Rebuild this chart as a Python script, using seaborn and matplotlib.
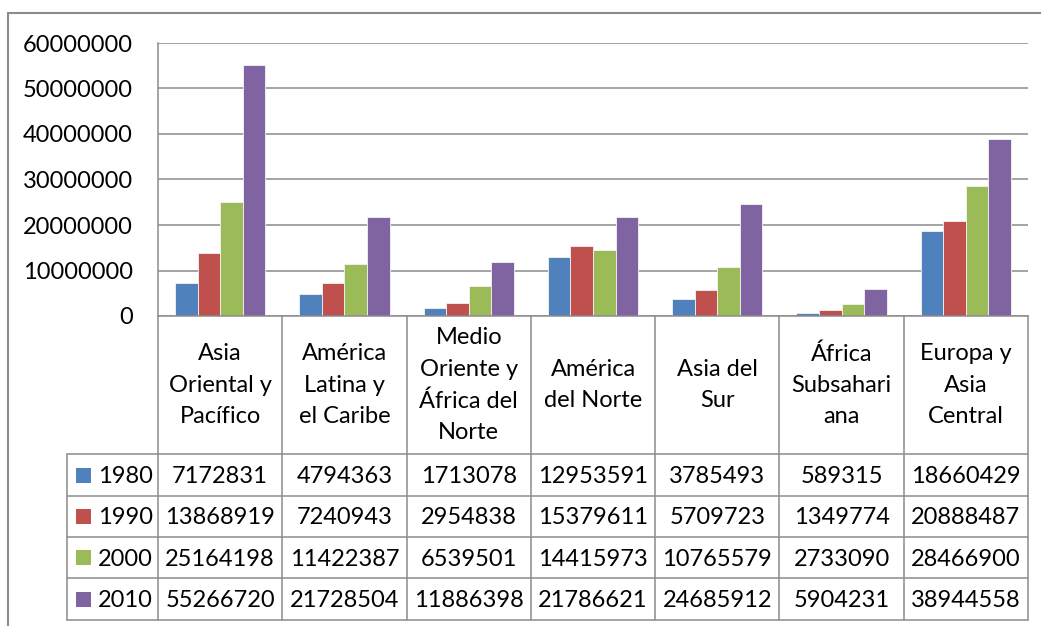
import numpy as np
import pandas as pd
import matplotlib
matplotlib.use("Agg")
import matplotlib.pyplot as plt
import matplotlib.transforms as mtransforms
from matplotlib.lines import Line2D
from matplotlib.patches import Rectangle
import seaborn as sns

# ---- data -------------------------------------------------------------
regions = [
    "Asia\nOriental y\nPacífico",
    "América\nLatina y\nel Caribe",
    "Medio\nOriente y\nÁfrica del\nNorte",
    "América\ndel Norte",
    "Asia del\nSur",
    "África\nSubsahari\nana",
    "Europa y\nAsia\nCentral",
]
years = ["1980", "1990", "2000", "2010"]
v1980 = [7172831, 4794363, 1713078, 12953591, 3785493, 589315, 18660429]
v1990 = [13868919, 7240943, 2954838, 15379611, 5709723, 1349774, 20888487]
v2000 = [25164198, 11422387, 6539501, 14415973, 10765579, 2733090, 28466900]
v2010 = [55266720, 21728504, 11886398, 21786621, 24685912, 5904231, 38944558]
yticks = [0, 10000000, 20000000, 30000000, 40000000, 50000000, 60000000]
colors = ["#4F81BD", "#C0504D", "#9BBB59", "#8064A2"]

series = [v1980, v1990, v2000, v2010]
df = pd.DataFrame({
    "region": [r for _ in years for r in regions],
    "year": [y for y in years for _ in regions],
    "value": [v for s in series for v in s],
})

# ---- figure setup -----------------------------------------------------
sns.set_theme(style="white")
plt.rcParams["font.family"] = ["Lato", "DejaVu Sans"]

W, H = 1041, 626
FS = 17
GREY = "#8c8c8c"
fig = plt.figure(figsize=(W / 100, H / 100), dpi=100)
fig.patch.set_facecolor("white")

# pixel coordinates measured from the top-left corner
T = mtransforms.Affine2D().scale(1, -1).translate(0, H) + mtransforms.IdentityTransform()


def frac(x0, y0, x1, y1):
    return [x0 / W, 1 - y1 / H, (x1 - x0) / W, (y1 - y0) / H]


ax = fig.add_axes(frac(158, 43, 1028, 316))

sns.barplot(
    data=df, x="region", y="value", hue="year",
    order=regions, hue_order=years, palette=colors,
    saturation=1, width=4 / 5.5, gap=0, errorbar=None,
    edgecolor="#f4f4f4", linewidth=0.6, legend=False, ax=ax,
)

ax.set_xlim(-0.5, len(regions) - 0.5)
ax.set_ylim(yticks[0], yticks[-1])
ax.set_yticks(yticks)
ax.set_yticklabels([str(t) for t in yticks])
ax.set_xticks(range(len(regions)))
ax.set_xticklabels([""] * len(regions))
ax.set_xlabel("")
ax.set_ylabel("")
ax.tick_params(axis="y", length=0, pad=18, labelsize=FS, labelcolor="black")
ax.tick_params(axis="x", length=0)
ax.yaxis.grid(True, color=GREY, linewidth=1.1)
ax.set_axisbelow(True)
for side in ("top", "right"):
    ax.spines[side].set_visible(False)
for side in ("left", "bottom"):
    ax.spines[side].set_color(GREY)
    ax.spines[side].set_linewidth(1.1)

# ---- data table under the axis ----------------------------------------
colx = mtransforms.blended_transform_factory(ax.transData, T)
row_edges = [454, 496, 537, 578, 620]
label_mid = (316 + row_edges[0]) / 2

for i, lab in enumerate(regions):
    ax.text(i, label_mid, lab, transform=colx, ha="center", va="center",
            fontsize=FS, linespacing=1.6, color="black", clip_on=False)

for i in range(len(regions) + 1):
    fig.add_artist(Line2D([i - 0.5, i - 0.5], [316, row_edges[-1]],
                          transform=colx, color=GREY, lw=1.1))
for y in row_edges:
    fig.add_artist(Line2D([67, 1028], [y, y], transform=T, color=GREY, lw=1.1))
fig.add_artist(Line2D([67, 67], [row_edges[0], row_edges[-1]], transform=T,
                      color=GREY, lw=1.1))

for r, (yr, vals, c) in enumerate(zip(years, series, colors)):
    yc = (row_edges[r] + row_edges[r + 1]) / 2
    base = yc + 8
    fig.add_artist(Rectangle((76, yc - 7.5), 15, 15, transform=T,
                             facecolor=c, edgecolor="none"))
    fig.text(98, base, yr, transform=T, ha="left", va="baseline",
             fontsize=FS, color="black")
    for i, v in enumerate(vals):
        fig.text(i, base, str(v), transform=colx, ha="center", va="baseline",
                 fontsize=FS, color="black")

# chart frame
fig.add_artist(Line2D([8, 8], [13, H], transform=T, color=GREY, lw=1.5))
fig.add_artist(Line2D([8, W], [13, 13], transform=T, color=GREY, lw=1.5))

fig.savefig("out.png", dpi=100, facecolor="white")
